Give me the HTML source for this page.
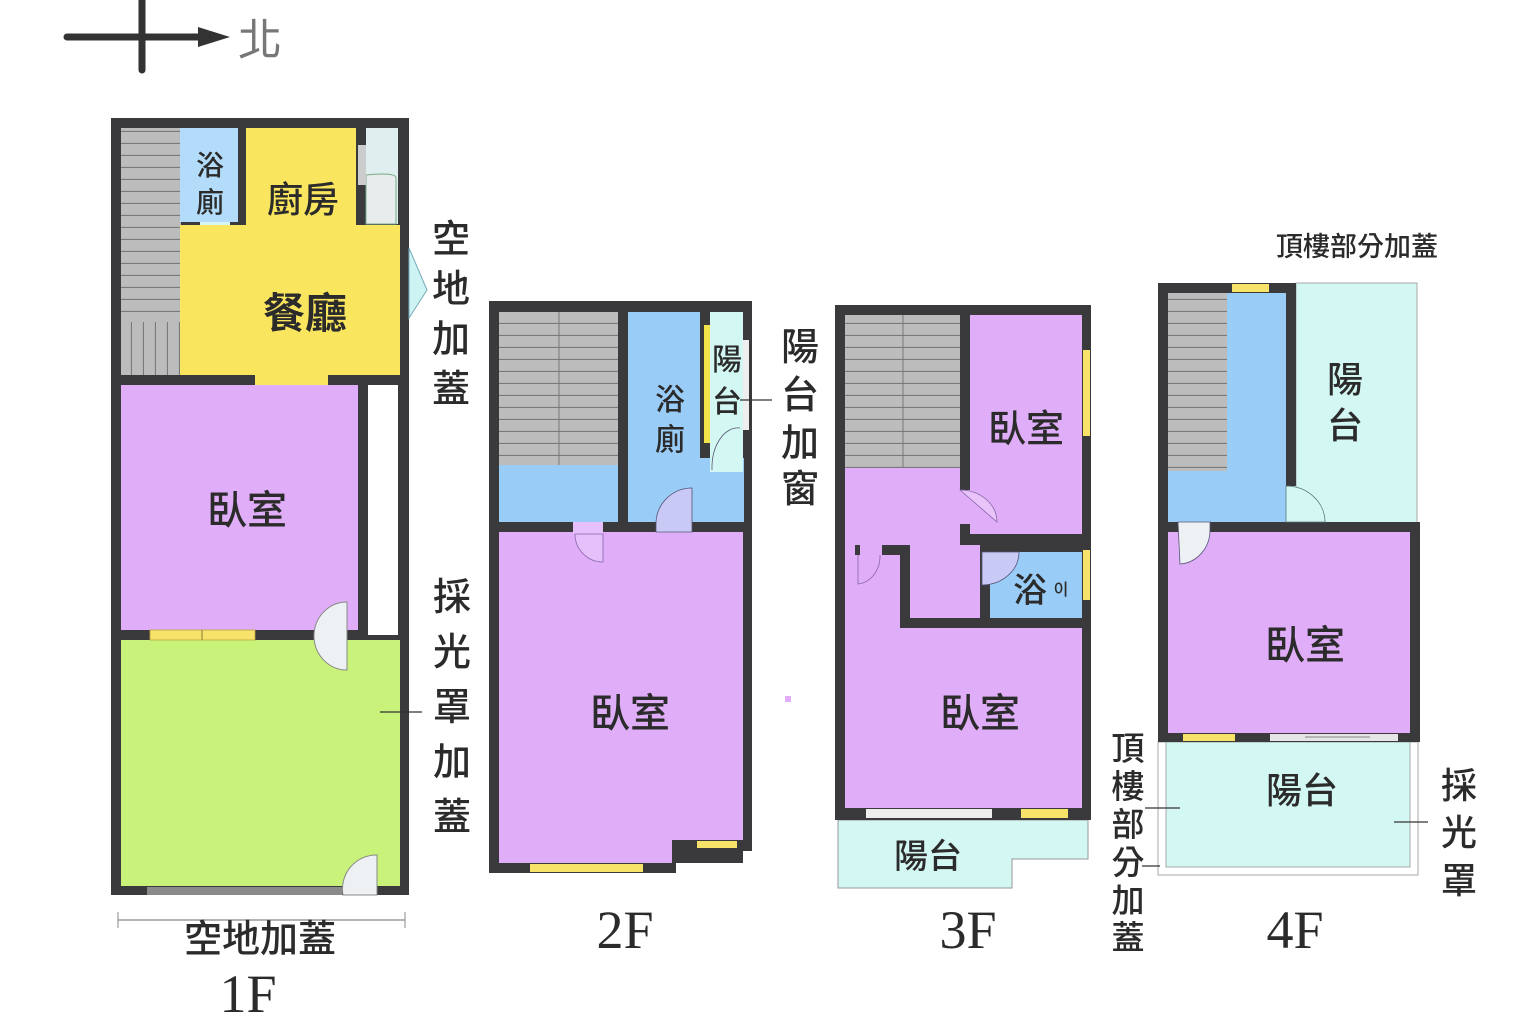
<!DOCTYPE html>
<html><head><meta charset="utf-8"><style>
html,body{margin:0;padding:0;background:#fff;width:1536px;height:1024px;overflow:hidden}
svg{display:block}
text{font-family:"Liberation Sans","Noto Sans CJK TC",sans-serif;fill:#2b2b2b;font-weight:500}
.ser{font-family:"Liberation Serif","Noto Serif CJK SC",serif;font-weight:400}
</style></head><body>
<svg width="1536" height="1024" viewBox="0 0 1536 1024" xmlns="http://www.w3.org/2000/svg">
<defs>
<pattern id="st" width="200" height="12" patternUnits="userSpaceOnUse"><rect width="200" height="12" fill="#bcbcbc"/><line x1="0" y1="11.5" x2="200" y2="11.5" stroke="#7a7a7a" stroke-width="1.2"/></pattern>
<pattern id="sv" width="12" height="200" patternUnits="userSpaceOnUse"><rect width="12" height="200" fill="#bcbcbc"/><line x1="11.5" y1="0" x2="11.5" y2="200" stroke="#7a7a7a" stroke-width="1.2"/></pattern>
</defs>
<!-- compass -->
<line x1="67" y1="37" x2="200" y2="37" stroke="#333" stroke-width="7" stroke-linecap="round"/>
<line x1="142" y1="0" x2="142" y2="70" stroke="#333" stroke-width="7" stroke-linecap="round"/>
<polygon points="198,27 230,37 198,47" fill="#333"/>
<text x="238" y="55" font-size="44" style="fill:#777;font-weight:400">北</text>

<!-- ===== 1F ===== -->
<rect x="111" y="118" width="298" height="777" fill="#3a3a3c"/>
<rect x="121" y="128" width="60" height="247" fill="url(#st)"/>
<rect x="121" y="322" width="78" height="53" fill="url(#sv)"/>
<rect x="180" y="128" width="58" height="94" fill="#b3dcfa"/>
<rect x="200" y="222" width="30" height="12" fill="#d6f6f6"/>
<rect x="246" y="128" width="110" height="100" fill="#fae55e"/>
<rect x="366" y="128" width="32" height="96" fill="#dfeeee"/>
<path d="M366,224 L366,175 Q396,172 396,178 L396,224Z" fill="#e9ecec" stroke="#7a8" stroke-width="1"/>
<rect x="358" y="145" width="8" height="40" fill="#ccc"/>
<rect x="180" y="225" width="220" height="150" fill="#fae55e"/>
<rect x="255" y="375" width="73" height="10" fill="#fae55e"/>
<rect x="121" y="385" width="237" height="245" fill="#e0aef8"/>
<rect x="368" y="385" width="30" height="250" fill="#fff"/>
<rect x="121" y="640" width="279" height="246" fill="#c9f27a"/>
<rect x="150" y="630" width="105" height="10" fill="#f7e26a" stroke="#b9a640" stroke-width="0.8"/>
<line x1="202" y1="630" x2="202" y2="640" stroke="#8a7a30"/>
<rect x="147" y="887" width="195" height="8" fill="#8a8a8a"/>
<path d="M347,602 A33,34 0 0 0 347,670 Z" fill="#eef1f4" stroke="#888" stroke-width="1"/>
<path d="M377,855 A34,34 0 0 0 343,895 L377,895Z" fill="#eef1f4" stroke="#888" stroke-width="1"/>
<polygon points="409,248 427,290 409,318" fill="#cdf3f3" stroke="#7ab" stroke-width="1"/>
<text x="210" y="175" font-size="28" text-anchor="middle">浴</text>
<text x="210" y="212" font-size="28" text-anchor="middle">廁</text>
<text x="303" y="212" font-size="36" text-anchor="middle">廚房</text>
<text x="305" y="328" font-size="42" text-anchor="middle" style="font-weight:700">餐廳</text>
<text x="247" y="524" font-size="40" text-anchor="middle">臥室</text>
<g font-size="38" text-anchor="middle">
<text x="451" y="252">空</text><text x="451" y="302">地</text><text x="451" y="352">加</text><text x="451" y="402">蓋</text>
<text x="452" y="610">採</text><text x="452" y="665">光</text><text x="452" y="720">罩</text><text x="452" y="775">加</text><text x="452" y="830">蓋</text>
</g>
<line x1="380" y1="712" x2="422" y2="712" stroke="#333" stroke-width="1.2"/>
<line x1="118" y1="920" x2="405" y2="920" stroke="#888" stroke-width="1.2"/>
<line x1="118" y1="912" x2="118" y2="928" stroke="#888"/><line x1="405" y1="912" x2="405" y2="928" stroke="#888"/>
<text x="260" y="952" font-size="38" text-anchor="middle">空地加蓋</text>
<text x="248" y="1012" font-size="54" text-anchor="middle" class="ser">1F</text>

<!-- ===== 2F ===== -->
<path d="M489,301 L752,301 L752,851 L676,851 L676,873 L489,873Z" fill="#3a3a3c"/>
<rect x="499" y="312" width="119" height="153" fill="url(#st)"/>
<line x1="559" y1="312" x2="559" y2="465" stroke="#777"/>
<rect x="499" y="465" width="119" height="57" fill="#99cdf8"/>
<rect x="628" y="312" width="72" height="210" fill="#99cdf8"/>
<rect x="700" y="458" width="44" height="64" fill="#99cdf8"/>
<rect x="710" y="312" width="33" height="160" fill="#d3f7f2"/>
<rect x="704" y="325" width="6" height="118" fill="#f2e54a"/>
<rect x="743" y="340" width="6" height="90" fill="#eee"/>
<path d="M740,428 A26,40 0 0 0 712,470" fill="none" stroke="#557" stroke-width="0.8"/>
<rect x="499" y="532" width="244" height="331" fill="#e0aef8"/>
<rect x="672" y="840" width="71" height="23" fill="#3a3a3c"/>
<rect x="573" y="522" width="30" height="12" fill="#e6c0fa"/>
<path d="M575,534 L603,534 L603,562 A28,28 0 0 1 575,534Z" fill="#e6c0fa" stroke="#86a" stroke-width="0.8"/>
<path d="M656,522 A36,36 0 0 1 692,488 L692,532 L656,532Z" fill="#c9c9f5" stroke="#557" stroke-width="0.8"/>
<rect x="530" y="864" width="113" height="8" fill="#f7e26a"/>
<rect x="697" y="841" width="40" height="7" fill="#f7e26a"/>
<text x="670" y="410" font-size="30" text-anchor="middle">浴</text>
<text x="670" y="450" font-size="30" text-anchor="middle">廁</text>
<text x="727" y="370" font-size="30" text-anchor="middle">陽</text>
<text x="727" y="412" font-size="30" text-anchor="middle">台</text>
<line x1="740" y1="400" x2="772" y2="400" stroke="#333" stroke-width="1.2"/>
<g font-size="38" text-anchor="middle">
<text x="800" y="360">陽</text><text x="800" y="408">台</text><text x="800" y="456">加</text><text x="800" y="502">窗</text>
</g>
<text x="630" y="727" font-size="40" text-anchor="middle">臥室</text>
<rect x="785" y="696" width="6" height="6" fill="#e0aef8"/>
<text x="625" y="948" font-size="54" text-anchor="middle" class="ser">2F</text>

<!-- ===== 3F ===== -->
<path d="M838,820 L1088,820 L1088,859 L1012,859 L1012,888 L838,888Z" fill="#d3f7f2" stroke="#999" stroke-width="1"/>
<rect x="835" y="305" width="256" height="515" fill="#3a3a3c"/>
<rect x="845" y="315" width="115" height="153" fill="url(#st)"/>
<line x1="903" y1="315" x2="903" y2="468" stroke="#777"/>
<rect x="845" y="468" width="115" height="80" fill="#e0aef8"/>
<rect x="970" y="315" width="112" height="219" fill="#e0aef8"/>
<rect x="845" y="545" width="135" height="73" fill="#e0aef8"/>
<rect x="960" y="490" width="10" height="34" fill="#e0aef8"/>
<rect x="910" y="555" width="70" height="63" fill="#e0aef8"/>
<rect x="990" y="552" width="92" height="66" fill="#99cdf8"/>
<rect x="845" y="628" width="237" height="180" fill="#e0aef8"/>
<rect x="845" y="555" width="55" height="73" fill="#e0aef8"/>
<rect x="855" y="545" width="45" height="10" fill="#3a3a3c"/>
<rect x="900" y="545" width="10" height="83" fill="#3a3a3c"/>
<rect x="900" y="618" width="190" height="10" fill="#3a3a3c"/>
<rect x="980" y="545" width="10" height="73" fill="#3a3a3c"/>
<rect x="960" y="534" width="130" height="10" fill="#3a3a3c"/>
<rect x="980" y="544" width="110" height="8" fill="#3a3a3c"/>
<rect x="860" y="545" width="22" height="10" fill="#e0aef8"/>
<path d="M858,555 L858,584 A24,28 0 0 0 880,555" fill="none" stroke="#86a" stroke-width="0.8"/>
<path d="M960,490 L997,522 A37,32 0 0 0 960,490Z" fill="#e8c4fa" stroke="#86a" stroke-width="0.8"/>
<path d="M982,552 L1019,552 A37,33 0 0 1 982,585Z" fill="#c9c9f5" stroke="#557" stroke-width="0.8"/>
<rect x="1083" y="350" width="7" height="86" fill="#f7e26a"/>
<rect x="1083" y="550" width="7" height="50" fill="#f7e26a"/>
<rect x="866" y="809" width="126" height="9" fill="#eee"/>
<rect x="1021" y="809" width="47" height="9" fill="#f7e26a"/>
<text x="1026" y="442" font-size="38" text-anchor="middle">臥室</text>
<text x="1030" y="602" font-size="34" text-anchor="middle">浴</text>
<text x="1061" y="595" font-size="16" text-anchor="middle">이</text>
<text x="980" y="727" font-size="40" text-anchor="middle">臥室</text>
<text x="928" y="868" font-size="34" text-anchor="middle">陽台</text>
<text x="968" y="948" font-size="54" text-anchor="middle" class="ser">3F</text>

<!-- ===== 4F ===== -->
<rect x="1296" y="283" width="121" height="242" fill="#d3f7f2" stroke="#aaa" stroke-width="1"/>
<rect x="1158" y="742" width="260" height="133" fill="#fff" stroke="#aaa" stroke-width="1"/>
<rect x="1166" y="742" width="244" height="125" fill="#d3f7f2" stroke="#aaa" stroke-width="1"/>
<path d="M1158,283 L1296,283 L1296,522 L1420,522 L1420,742 L1158,742Z" fill="#3a3a3c"/>
<rect x="1168" y="293" width="118" height="229" fill="#99cdf8"/>
<rect x="1168" y="293" width="59" height="178" fill="url(#st)"/>
<rect x="1232" y="284" width="37" height="8" fill="#f7e26a"/>
<rect x="1286" y="486" width="10" height="36" fill="#d3f7f2"/>
<path d="M1286,486 A39,36 0 0 1 1325,522 L1286,522Z" fill="#d3f7f2" stroke="#577" stroke-width="0.8"/>
<rect x="1168" y="532" width="242" height="201" fill="#e0aef8"/>
<path d="M1178,522 L1210,522 L1210,530 A32,34 0 0 1 1180,564 Z" fill="#eef1f4" stroke="#557" stroke-width="0.8"/>
<rect x="1183" y="734" width="52" height="7" fill="#f7e26a"/>
<rect x="1270" y="734" width="128" height="7" fill="#e5e5e8"/>
<line x1="1305" y1="737" x2="1370" y2="737" stroke="#888"/>
<text x="1357" y="256" font-size="27" text-anchor="middle">頂樓部分加蓋</text>
<text x="1345" y="392" font-size="36" text-anchor="middle">陽</text>
<text x="1345" y="438" font-size="36" text-anchor="middle">台</text>
<text x="1305" y="659" font-size="40" text-anchor="middle">臥室</text>
<text x="1302" y="803" font-size="36" text-anchor="middle">陽台</text>
<g font-size="36" text-anchor="middle">
<text x="1459" y="798">採</text><text x="1459" y="845">光</text><text x="1459" y="893">罩</text>
</g>
<g font-size="33" text-anchor="middle">
<text x="1128" y="760">頂</text><text x="1128" y="798">樓</text><text x="1128" y="836">部</text><text x="1128" y="874">分</text><text x="1128" y="912">加</text><text x="1128" y="949">蓋</text>
</g>
<line x1="1394" y1="822" x2="1428" y2="822" stroke="#333" stroke-width="1.2"/>
<line x1="1145" y1="808" x2="1180" y2="808" stroke="#333" stroke-width="1.2"/>
<line x1="1142" y1="866" x2="1160" y2="866" stroke="#333" stroke-width="1.2"/>
<text x="1295" y="948" font-size="54" text-anchor="middle" class="ser">4F</text>
</svg>
</body></html>
